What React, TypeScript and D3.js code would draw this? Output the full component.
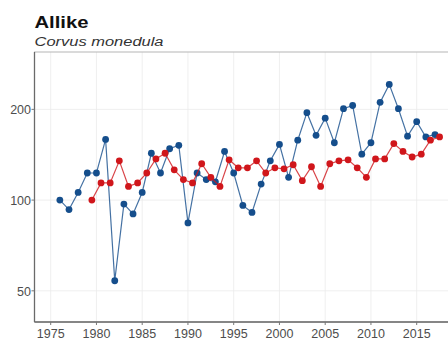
import React, { useEffect, useRef } from 'react'
import { select, scaleLinear, scaleLog, line } from 'd3'

// Allike (Corvus monedula) index, two series
const blueYears = [
  1976, 1977, 1978, 1979, 1980, 1981, 1982, 1983, 1984, 1985, 1986, 1987, 1988, 1989,
  1990, 1991, 1992, 1993, 1994, 1995, 1996, 1997, 1998, 1999, 2000, 2001, 2002, 2003,
  2004, 2005, 2006, 2007, 2008, 2009, 2010, 2011, 2012, 2013, 2014, 2015, 2016, 2017,
]
const blueValues = [
  100, 93, 106, 123, 123, 159, 54, 97, 90, 106, 143, 123, 148, 152,
  84, 123, 117, 115, 145, 123, 96, 91, 113, 135, 153, 119, 158, 195,
  164, 187, 155, 201, 206, 142, 155, 211, 242, 201, 163, 182, 162, 165,
]
const redYears = [
  1979, 1980, 1981, 1982, 1983, 1984, 1985, 1986, 1987, 1988, 1989,
  1990, 1991, 1992, 1993, 1994, 1995, 1996, 1997, 1998, 1999, 2000, 2001, 2002, 2003,
  2004, 2005, 2006, 2007, 2008, 2009, 2010, 2011, 2012, 2013, 2014, 2015, 2016, 2017,
]
const redValues = [
  100, 114, 114, 135, 111, 114, 123, 137, 143, 126, 117,
  114, 132, 119, 111, 136, 128, 128, 135, 123, 128, 127, 131, 116, 129,
  111, 132, 135, 136, 128, 119, 137, 137, 154, 145, 139, 142, 158, 162,
]
const xTicks = [1975, 1980, 1985, 1990, 1995, 2000, 2005, 2010, 2015]
const yTicks = [50, 100, 200]

const W = 448
const H = 340
const m = { left: 34.5, top: 52, right: 460, bottom: 322 }
const BLUE = '#154e8c'
const RED = '#d0161b'
const FONT = '"Liberation Sans", Arial, sans-serif'

export default function App() {
  const svgRef = useRef<SVGSVGElement | null>(null)

  useEffect(() => {
    if (!svgRef.current) return
    const svg = select(svgRef.current)
    svg.selectAll('*').remove()

    const x = scaleLinear().domain([1975, 2015]).range([50.7, 416.7])
    const y = scaleLog().domain([39.4, 310]).range([m.bottom, m.top])

    // grid
    const grid = svg.append('g')
    grid.selectAll('.vg').data(xTicks).join('line')
      .attr('x1', d => x(d)).attr('x2', d => x(d))
      .attr('y1', m.top).attr('y2', m.bottom)
      .attr('stroke', '#ebebeb').attr('stroke-width', 0.8)
    grid.selectAll('.hg').data(yTicks).join('line')
      .attr('x1', m.left).attr('x2', m.right)
      .attr('y1', d => y(d)).attr('y2', d => y(d))
      .attr('stroke', '#ebebeb').attr('stroke-width', 0.8)

    // panel border
    svg.append('rect')
      .attr('x', m.left).attr('y', m.top)
      .attr('width', m.right - m.left).attr('height', m.bottom - m.top)
      .attr('fill', 'none').attr('stroke', '#b5b5b5').attr('stroke-width', 1)

    // axis lines
    svg.append('line')
      .attr('x1', m.left).attr('x2', m.left).attr('y1', m.top).attr('y2', m.bottom)
      .attr('stroke', '#6a6a6a').attr('stroke-width', 1.3)
    svg.append('line')
      .attr('x1', m.left).attr('x2', m.right).attr('y1', m.bottom).attr('y2', m.bottom)
      .attr('stroke', '#6a6a6a').attr('stroke-width', 1.3)

    // ticks + labels
    const xa = svg.append('g')
    xa.selectAll('line').data(xTicks).join('line')
      .attr('x1', d => x(d)).attr('x2', d => x(d))
      .attr('y1', m.bottom).attr('y2', m.bottom + 3)
      .attr('stroke', '#777')
    xa.selectAll('text').data(xTicks).join('text')
      .attr('x', d => x(d)).attr('y', 338)
      .attr('text-anchor', 'middle')
      .attr('font-family', FONT).attr('font-size', 12.5).attr('fill', '#4d4d4d')
      .text(d => d)
    const ya = svg.append('g')
    ya.selectAll('line').data(yTicks).join('line')
      .attr('x1', m.left - 3).attr('x2', m.left)
      .attr('y1', d => y(d)).attr('y2', d => y(d))
      .attr('stroke', '#777')
    ya.selectAll('text').data(yTicks).join('text')
      .attr('x', 31).attr('y', d => y(d) + 5)
      .attr('text-anchor', 'end')
      .attr('font-family', FONT).attr('font-size', 12.5).attr('fill', '#4d4d4d')
      .text(d => d)

    // series
    const series = [
      { years: blueYears, values: blueValues, color: BLUE, shift: 0 },
      { years: redYears, values: redValues, color: RED, shift: 0.5 },
    ]
    series.forEach(s => {
      const pts = s.years.map((yr, i) => [x(yr + s.shift), y(s.values[i])] as [number, number])
      svg.append('path')
        .attr('d', line()(pts))
        .attr('fill', 'none').attr('stroke', s.color).attr('stroke-width', 1.2)
        .attr('stroke-opacity', 0.8)
      svg.append('g').selectAll('circle').data(pts).join('circle')
        .attr('cx', d => d[0]).attr('cy', d => d[1]).attr('r', 3.4)
        .attr('fill', s.color)
    })

    // titles
    svg.append('text')
      .attr('x', m.left).attr('y', 27.5)
      .attr('font-family', FONT).attr('font-weight', 'bold').attr('font-size', 16.5)
      .attr('textLength', 54).attr('lengthAdjust', 'spacingAndGlyphs')
      .attr('fill', '#111').text('Allike')
    svg.append('text')
      .attr('x', m.left).attr('y', 46)
      .attr('font-family', FONT).attr('font-style', 'italic').attr('font-size', 12.5)
      .attr('textLength', 129).attr('lengthAdjust', 'spacingAndGlyphs')
      .attr('fill', '#333').text('Corvus monedula')
  }, [])

  return (
    <svg
      ref={svgRef}
      width={W}
      height={H}
      style={{ position: 'absolute', left: 0, top: 0, background: '#fff', overflow: 'hidden' }}
    />
  )
}
